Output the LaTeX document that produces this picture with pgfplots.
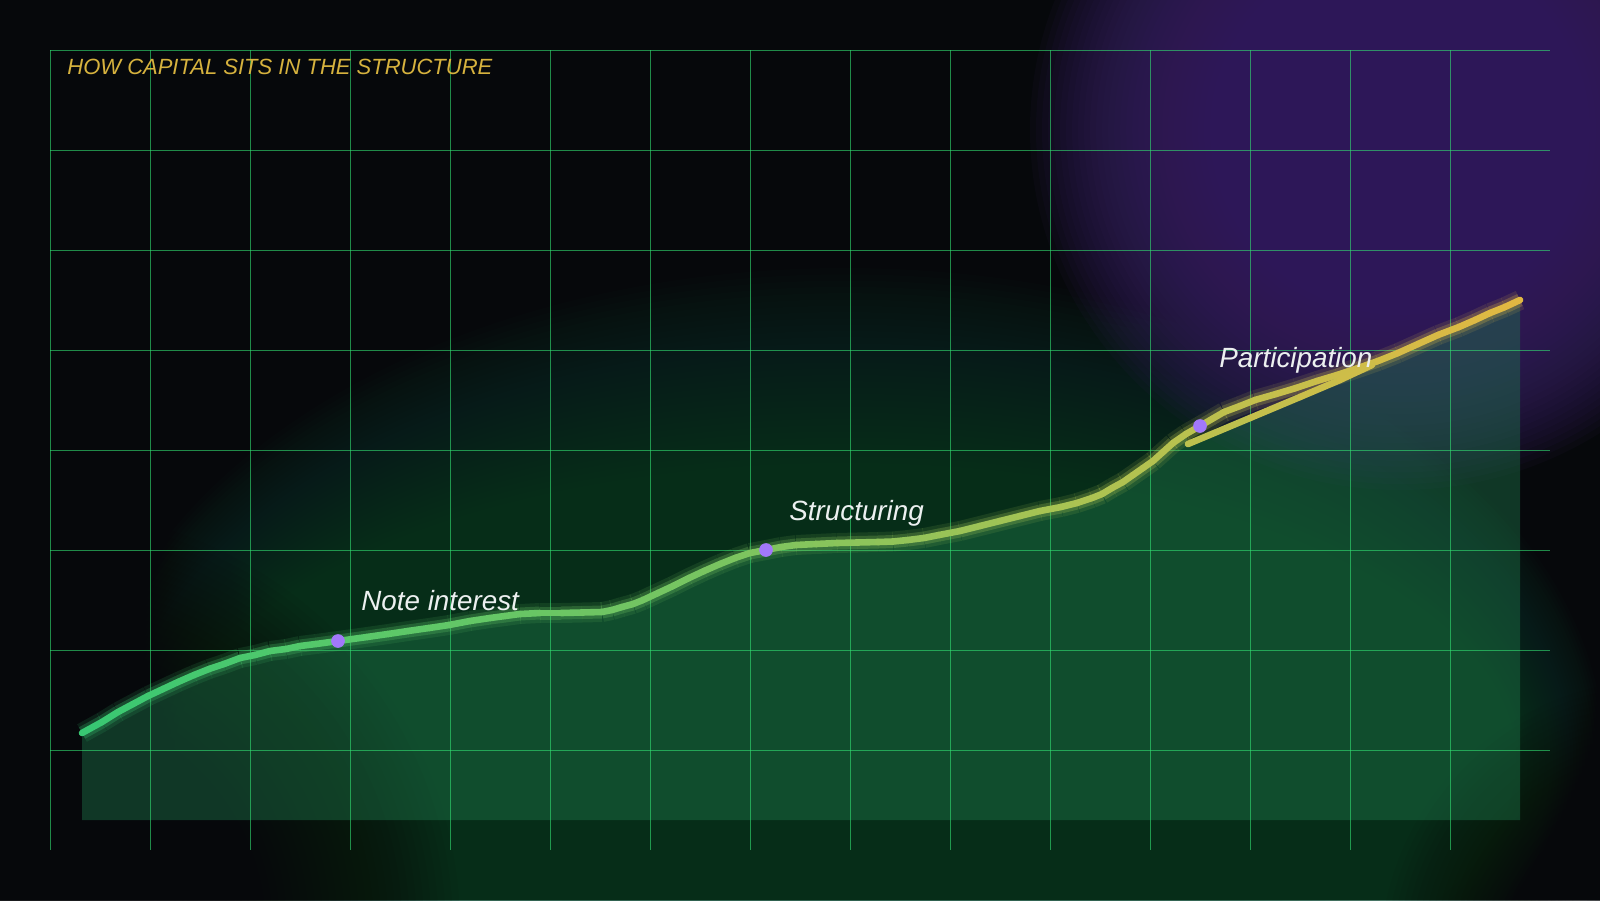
\documentclass[border=0pt]{standalone}
\usepackage{pgfplots}
\usepackage{pgfplotstable}
\pgfplotsset{compat=1.18}
\usepackage{fontspec}
\setmainfont{Liberation Sans}

\definecolor{bg}{RGB}{6,8,11}
\definecolor{deepgreen}{RGB}{15,73,52}
\definecolor{violet}{RGB}{57,35,100}
\definecolor{gridgreen}{RGB}{50,225,115}
\definecolor{areagreen}{RGB}{30,122,76}
\definecolor{gold}{RGB}{214,178,62}
\definecolor{dot}{RGB}{162,120,250}
\definecolor{labelwhite}{RGB}{236,240,240}

% the capital path, in picture pixels (y counted from the top)
\pgfplotstableread{
x y
82 733
102 722
118 712
133 704
148 696
163 689
178 682
194 675
209 669
224 664
240 658
255 655
270 651
286 649
300 646
316 644
338 641
367 637
388 634
408 631
429 628
449 625
470 621
490 618
505 616
520 614
540 613
561 613
582 612.5
602 612
612 610
622 607
633 604
643 600
658 593
673 586
689 578
704 571
720 564
735 558
750 553
766 550
781 547
796 545
816 544
837 543
857 542.5
878 542
893 541.5
908 540
924 538
939 535
960 531
980 526
1000 521
1020 516
1040 511
1061 507
1077 503
1092 498
1102 494
1112 488
1123 482
1133 475
1143 468
1153 461
1163 452
1173 443
1186 434
1200 426
1212 419
1224 412
1240 406
1255 400
1276 394
1296 388
1317 381
1337 375
1358 368
1378 361
1398 353
1418 344
1438 335
1459 327
1475 320
1490 313
1505 307
1520 300
}\mainline

\begin{document}
\begin{tikzpicture}
\begin{axis}[
  scale only axis,
  width=800pt, height=450pt,
  xmin=0, xmax=1600, ymin=0, ymax=900,
  y dir=reverse,
  hide axis,
  point meta min=80, point meta max=1520,
  colormap={trail}{rgb255(0cm)=(55,200,115); rgb255(2cm)=(90,200,105); rgb255(4.5cm)=(122,196,96); rgb255(7cm)=(172,195,82); rgb255(8.5cm)=(200,190,75); rgb255(10cm)=(226,184,66)},
]
% backdrop: stacked translucent ellipses make the soft glows
\fill[bg] (axis cs:0,0) rectangle (axis cs:1600,900);
\pgfplotsinvokeforeach{1,...,70}{
  \fill[deepgreen, opacity=0.035] (axis cs:845,760)
    ellipse [x radius={(560+2.857*#1)*0.5pt}, y radius={(52+6.286*#1)*0.5pt}];
}
% darker bottom corners
\pgfplotsinvokeforeach{1,...,50}{
  \fill[bg, opacity=0.05] (axis cs:40,930) circle [radius={(60+7.2*#1)*0.5pt}];
}
\pgfplotsinvokeforeach{1,...,40}{
  \fill[bg, opacity=0.04] (axis cs:1660,960) circle [radius={(40+6*#1)*0.5pt}];
}
\pgfplotsinvokeforeach{1,...,40}{
  \fill[violet, opacity=0.08] (axis cs:1400,130)
    ellipse [x radius={(0.35+0.01625*#1)*185pt}, y radius={(0.35+0.01625*#1)*180pt}];
}

% area under the path
\addplot[draw=none, fill=areagreen, fill opacity=0.42] coordinates {
  (82,733) (102,722) (118,712) (133,704) (148,696) (163,689) (178,682)
  (194,675) (209,669) (224,664) (240,658) (255,655) (270,651) (286,649)
  (300,646) (316,644) (338,641) (367,637) (388,634) (408,631) (429,628)
  (449,625) (470,621) (490,618) (505,616) (520,614) (540,613) (561,613)
  (582,612.5) (602,612) (612,610) (622,607) (633,604) (643,600) (658,593)
  (673,586) (689,578) (704,571) (720,564) (735,558) (750,553) (766,550)
  (781,547) (796,545) (816,544) (837,543) (857,542.5) (878,542) (893,541.5)
  (908,540) (924,538) (939,535) (960,531) (980,526) (1000,521) (1020,516)
  (1040,511) (1061,507) (1077,503) (1092,498) (1102,494) (1112,488)
  (1123,482) (1133,475) (1143,468) (1153,461) (1163,452) (1173,443)
  (1186,434) (1188,446) (1250,419) (1300,398) (1340,381) (1372,365)
  (1378,361) (1398,353) (1418,344) (1438,335) (1459,327) (1475,320)
  (1490,313) (1505,307) (1520,300) (1520,820) (82,820)
};

% grid
\pgfplotsinvokeforeach{50,150,...,1450}{
  \draw[gridgreen, opacity=0.6, line width=0.5pt] (axis cs:#1,50) -- (axis cs:#1,850);
}
\pgfplotsinvokeforeach{50,150,...,750}{
  \draw[gridgreen, opacity=0.6, line width=0.5pt] (axis cs:50,#1) -- (axis cs:1550,#1);
}

\node[anchor=base west, inner sep=0pt, text=gold, font=\fontsize{11}{13}\selectfont\itshape]
  at (axis cs:67,74) {HOW CAPITAL SITS IN THE STRUCTURE};

% halo, then the path itself
\addplot[mesh, point meta=x, line width=10pt, opacity=0.13, line cap=butt] table {\mainline};
\addplot[mesh, point meta=x, line width=6.5pt, opacity=0.26, line cap=butt] table {\mainline};
\addplot[mesh, point meta=x, line width=3.3pt, line cap=round] table {\mainline};
\addplot[mesh, point meta=x, line width=3.3pt, line cap=round] coordinates {
  (1188,444) (1250,418) (1300,397) (1340,380) (1372,365)
};

\addplot[only marks, mark=*, mark size=3.2pt, mark options={fill=dot, draw=dot}] coordinates {
  (338,641) (766,550) (1200,426)
};

\node[anchor=base west, inner sep=0pt, text=labelwhite, font=\fontsize{13.9}{16}\selectfont\itshape]
  at (axis cs:361,610) {Note interest};
\node[anchor=base west, inner sep=0pt, text=labelwhite, font=\fontsize{13.9}{16}\selectfont\itshape]
  at (axis cs:789,520) {Structuring};
\node[anchor=base west, inner sep=0pt, text=labelwhite, font=\fontsize{13.9}{16}\selectfont\itshape]
  at (axis cs:1219,367) {Participation};
\end{axis}
\pgfresetboundingbox
\useasboundingbox (current axis.south west) rectangle (current axis.north east);
\end{tikzpicture}
\end{document}
